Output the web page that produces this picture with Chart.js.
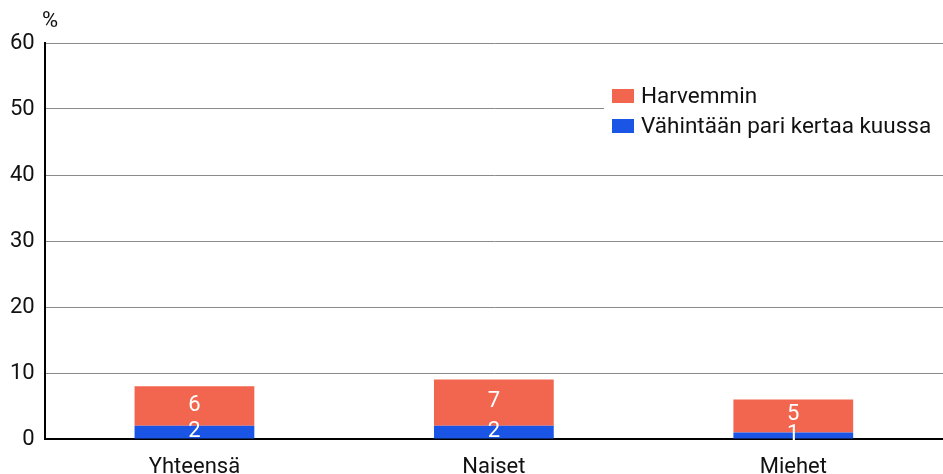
<!DOCTYPE html>
<html>
<head>
<meta charset="utf-8">
<script src="https://cdn.jsdelivr.net/npm/chart.js@4"></script>
<style>
  html, body { margin: 0; padding: 0; background: #fff; }
  #wrap { position: relative; width: 943px; height: 474px; }
</style>
</head>
<body>
<div id="wrap"><canvas id="chart"></canvas></div>
<script>
'use strict';
const categories = ['Yhteensä', 'Naiset', 'Miehet']
const monthlyValues = [2, 2, 1]
const rarelyValues = [6, 7, 5]
const yTicks = [0, 10, 20, 30, 40, 50, 60]

const FONT = "'Roboto', sans-serif"
const RED = '#f2664f'
const BLUE = '#1a55e6'

// white value labels in the middle of each bar segment
const valueLabels = {
  id: 'valueLabels',
  afterDatasetsDraw(chart) {
    const c = chart.ctx
    c.save()
    c.fillStyle = '#fff'
    c.font = '22px ' + FONT
    c.textAlign = 'center'
    c.textBaseline = 'middle'
    chart.data.datasets.forEach((ds, i) => {
      chart.getDatasetMeta(i).data.forEach((bar, j) => {
        const mid = (bar.y + bar.base) / 2
        c.fillText(ds.data[j], bar.x, mid - 1)
      })
    })
    c.restore()
  }
}

// category names under the axis, placed from the x scale
const categoryLabels = {
  id: 'categoryLabels',
  afterDraw(chart) {
    const c = chart.ctx
    const xs = chart.scales.x
    c.save()
    c.fillStyle = '#111'
    c.font = '22px ' + FONT
    c.textAlign = 'center'
    c.textBaseline = 'middle'
    categories.forEach((name, i) => {
      c.fillText(name, xs.getPixelForValue(i), chart.chartArea.bottom + 28)
    })
    c.restore()
  }
}

// legend box inside the plot, top right, plus the % unit label
const boxLegend = {
  id: 'boxLegend',
  afterDraw(chart) {
    const c = chart.ctx
    const area = chart.chartArea
    c.save()
    c.font = '22px ' + FONT
    c.textBaseline = 'middle'
    c.fillStyle = '#111'
    c.fillText('%', 42, 21)
    const x = 604
    const y = 82
    c.fillStyle = '#fff'
    c.fillRect(x, y, area.right - x, 58)
    const items = [chart.data.datasets[1], chart.data.datasets[0]]
    items.forEach((ds, i) => {
      const cy = y + 14 + i * 30
      c.fillStyle = ds.backgroundColor
      c.fillRect(x + 8, cy - 7, 22, 14)
      c.fillStyle = '#111'
      c.font = '22.5px ' + FONT
      c.fillText(ds.label, x + 37, cy + 1)
    })
    c.restore()
  }
}

new Chart(document.getElementById('chart'), {
  type: 'bar',
  data: {
    labels: categories,
    datasets: [
      { label: 'Vähintään pari kertaa kuussa', data: monthlyValues, backgroundColor: BLUE },
      { label: 'Harvemmin', data: rarelyValues, backgroundColor: RED }
    ]
  },
  options: {
    responsive: true,
    maintainAspectRatio: false,
    animation: false,
    layout: { padding: { top: 43, right: 0, left: 0, bottom: 35 } },
    datasets: { bar: { barPercentage: 0.4, categoryPercentage: 1.0 } },
    plugins: {
      legend: { display: false },
      tooltip: { enabled: false }
    },
    scales: {
      x: {
        stacked: true,
        grid: { display: false, drawTicks: false },
        border: { color: '#000', width: 2 },
        ticks: { display: false }
      },
      y: {
        stacked: true,
        min: 0,
        max: 60,
        afterBuildTicks(axis) { axis.ticks = yTicks.map(v => ({ value: v })) },
        grid: { color: '#8a8a8a', lineWidth: 1, drawTicks: false },
        border: { color: '#000', width: 2 },
        ticks: { color: '#111', font: { family: FONT, size: 22 }, padding: 10 }
      }
    }
  },
  plugins: [valueLabels, categoryLabels, boxLegend]
})
</script>
</body>
</html>
